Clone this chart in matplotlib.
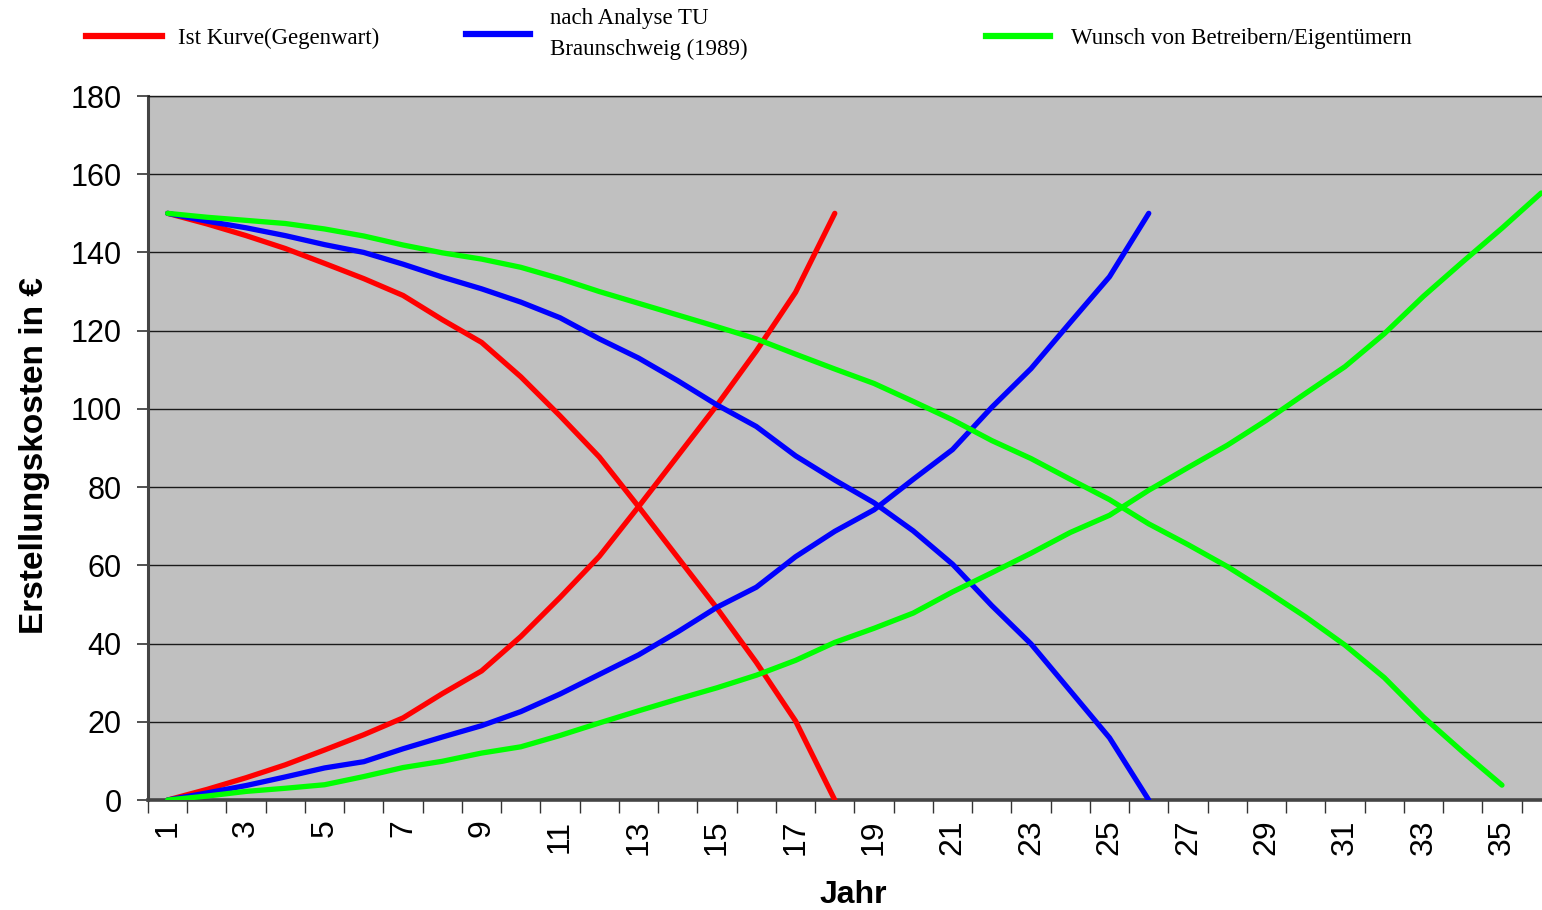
import numpy as np
import matplotlib
matplotlib.use("Agg")
import matplotlib.pyplot as plt
from matplotlib.lines import Line2D
from matplotlib.ticker import MultipleLocator, FixedLocator

# Erstellungskosten (Restwert / Abschreibung) je Jahr, drei Szenarien
red_fall = [150, 147.3, 144.3, 141.0, 137.2, 133.3, 129.0, 122.8, 117.0, 108.2,
            98.2, 87.7, 75.0, 62.0, 49.0, 35.2, 20.2, 0]
red_rise = [0, 2.7, 5.7, 9.0, 12.8, 16.7, 21.0, 27.2, 33.0, 41.8,
            51.8, 62.3, 75.0, 88.0, 101.0, 114.8, 129.8, 150]

blue_fall = [150, 148, 146.3, 144.3, 142, 140, 137, 133.7, 130.7, 127.3,
             123.3, 117.9, 113, 107.2, 101, 95.5, 88, 81.8, 76, 68.8,
             60.3, 49.7, 39.9, 27.9, 15.9, 0]
blue_rise = [0, 1.8, 3.7, 5.9, 8.2, 9.8, 13.1, 16.1, 19, 22.6,
             27.1, 32.1, 37.1, 43, 49.3, 54.4, 62.2, 68.7, 74.2, 82,
             89.6, 100.4, 110.3, 122.1, 133.8, 150]

green_fall = [150, 149, 148.2, 147.4, 146, 144.2, 141.9, 139.9, 138.3, 136.2,
              133.3, 130, 127, 124, 121, 117.9, 114, 110.2, 106.5, 101.9,
              97.2, 91.9, 87.3, 82, 76.8, 70.6, 65.3, 59.7, 53.4, 46.8,
              39.6, 31.3, 21.2, 12.3, 3.8]
green_rise = [0, 1, 2.2, 3, 3.9, 6, 8.3, 9.9, 12, 13.6,
              16.5, 19.7, 22.8, 25.8, 28.7, 31.9, 35.7, 40.3, 43.9, 47.8,
              53.2, 58.1, 63.1, 68.4, 72.8, 79.2, 85, 90.7, 97.1, 104,
              110.8, 119.2, 128.8, 137.6, 146.2, 155.2]

labels = ["Ist Kurve(Gegenwart)",
          "nach Analyse TU\nBraunschweig (1989)",
          "Wunsch von Betreibern/Eigentümern"]
colors = ["#FF0000", "#0000FF", "#00FF00"]
series = [(red_fall, red_rise), (blue_fall, blue_rise), (green_fall, green_rise)]

fig = plt.figure(figsize=(15.42, 9.10), dpi=100)
ax = fig.add_axes([148 / 1542, 1 - 800 / 910, 1 - 148 / 1542, 704 / 910])
ax.set_facecolor("#C0C0C0")

for (fall, rise), c in zip(series, colors):
    for vals in (fall, rise):
        yrs = np.arange(1, len(vals) + 1)
        ax.plot(yrs, vals, color=c, lw=3.8, solid_capstyle="round",
                solid_joinstyle="round", zorder=3)

ax.set_xlim(0.5, 36.02)
ax.set_ylim(0, 180)

# y axis
ax.yaxis.set_major_locator(MultipleLocator(20))
ax.grid(axis="y", color="#1a1a1a", lw=1.0, zorder=1)
ax.set_axisbelow(True)
ax.tick_params(axis="y", direction="out", length=8, width=1.2, pad=11,
               labelsize=22, color="#333333")

# x axis: odd years labelled, ticks between the categories
ax.xaxis.set_major_locator(FixedLocator(np.arange(1, 37, 2)))
ax.set_xticklabels([str(v) for v in range(1, 37, 2)], rotation=90)
ax.xaxis.set_minor_locator(FixedLocator(np.arange(0.5, 37, 1)))
ax.tick_params(axis="x", which="major", length=0, pad=14, labelsize=23)
ax.tick_params(axis="x", which="minor", direction="out", length=9,
               width=1.0, color="#333333")

for lab in ax.get_xticklabels() + ax.get_yticklabels():
    lab.set_fontfamily("Liberation Sans")

ax.spines["right"].set_visible(False)
ax.spines["top"].set_color("#1a1a1a")
ax.spines["top"].set_linewidth(1.0)
ax.spines["left"].set_color("#444444")
ax.spines["left"].set_linewidth(2.2)
ax.spines["bottom"].set_color("#444444")
ax.spines["bottom"].set_linewidth(2.6)

ax.set_ylabel("Erstellungskosten in €", fontsize=24, fontweight="bold",
              family="Liberation Sans")
ax.yaxis.set_label_coords(-0.070, 0.489)
ax.set_xlabel("Jahr", fontsize=23, fontweight="bold", family="Liberation Sans")
ax.xaxis.set_label_coords(0.506, -0.114)

# legend: one block per scenario along the top
leg_pos = [(86 / 1542, 1 - 38 / 910, 3.3, 0.7),
           (466 / 1542, 1 - 34 / 910, 2.8, 0.85),
           (986 / 1542, 1 - 38 / 910, 2.8, 0.92)]
for lab, c, (lx, ly, hl, tp) in zip(labels, colors, leg_pos):
    h = Line2D([], [], color=c, lw=4.5)
    leg = fig.legend(handles=[h], labels=[lab], loc="center left",
                     bbox_to_anchor=(lx, ly), frameon=False, handlelength=hl,
                     handletextpad=tp, borderpad=0, borderaxespad=0,
                     prop={"family": "Liberation Serif", "size": 16.5})
    leg.get_texts()[0].set_linespacing(1.55)

fig.savefig("out.png", dpi=100, facecolor="white")
